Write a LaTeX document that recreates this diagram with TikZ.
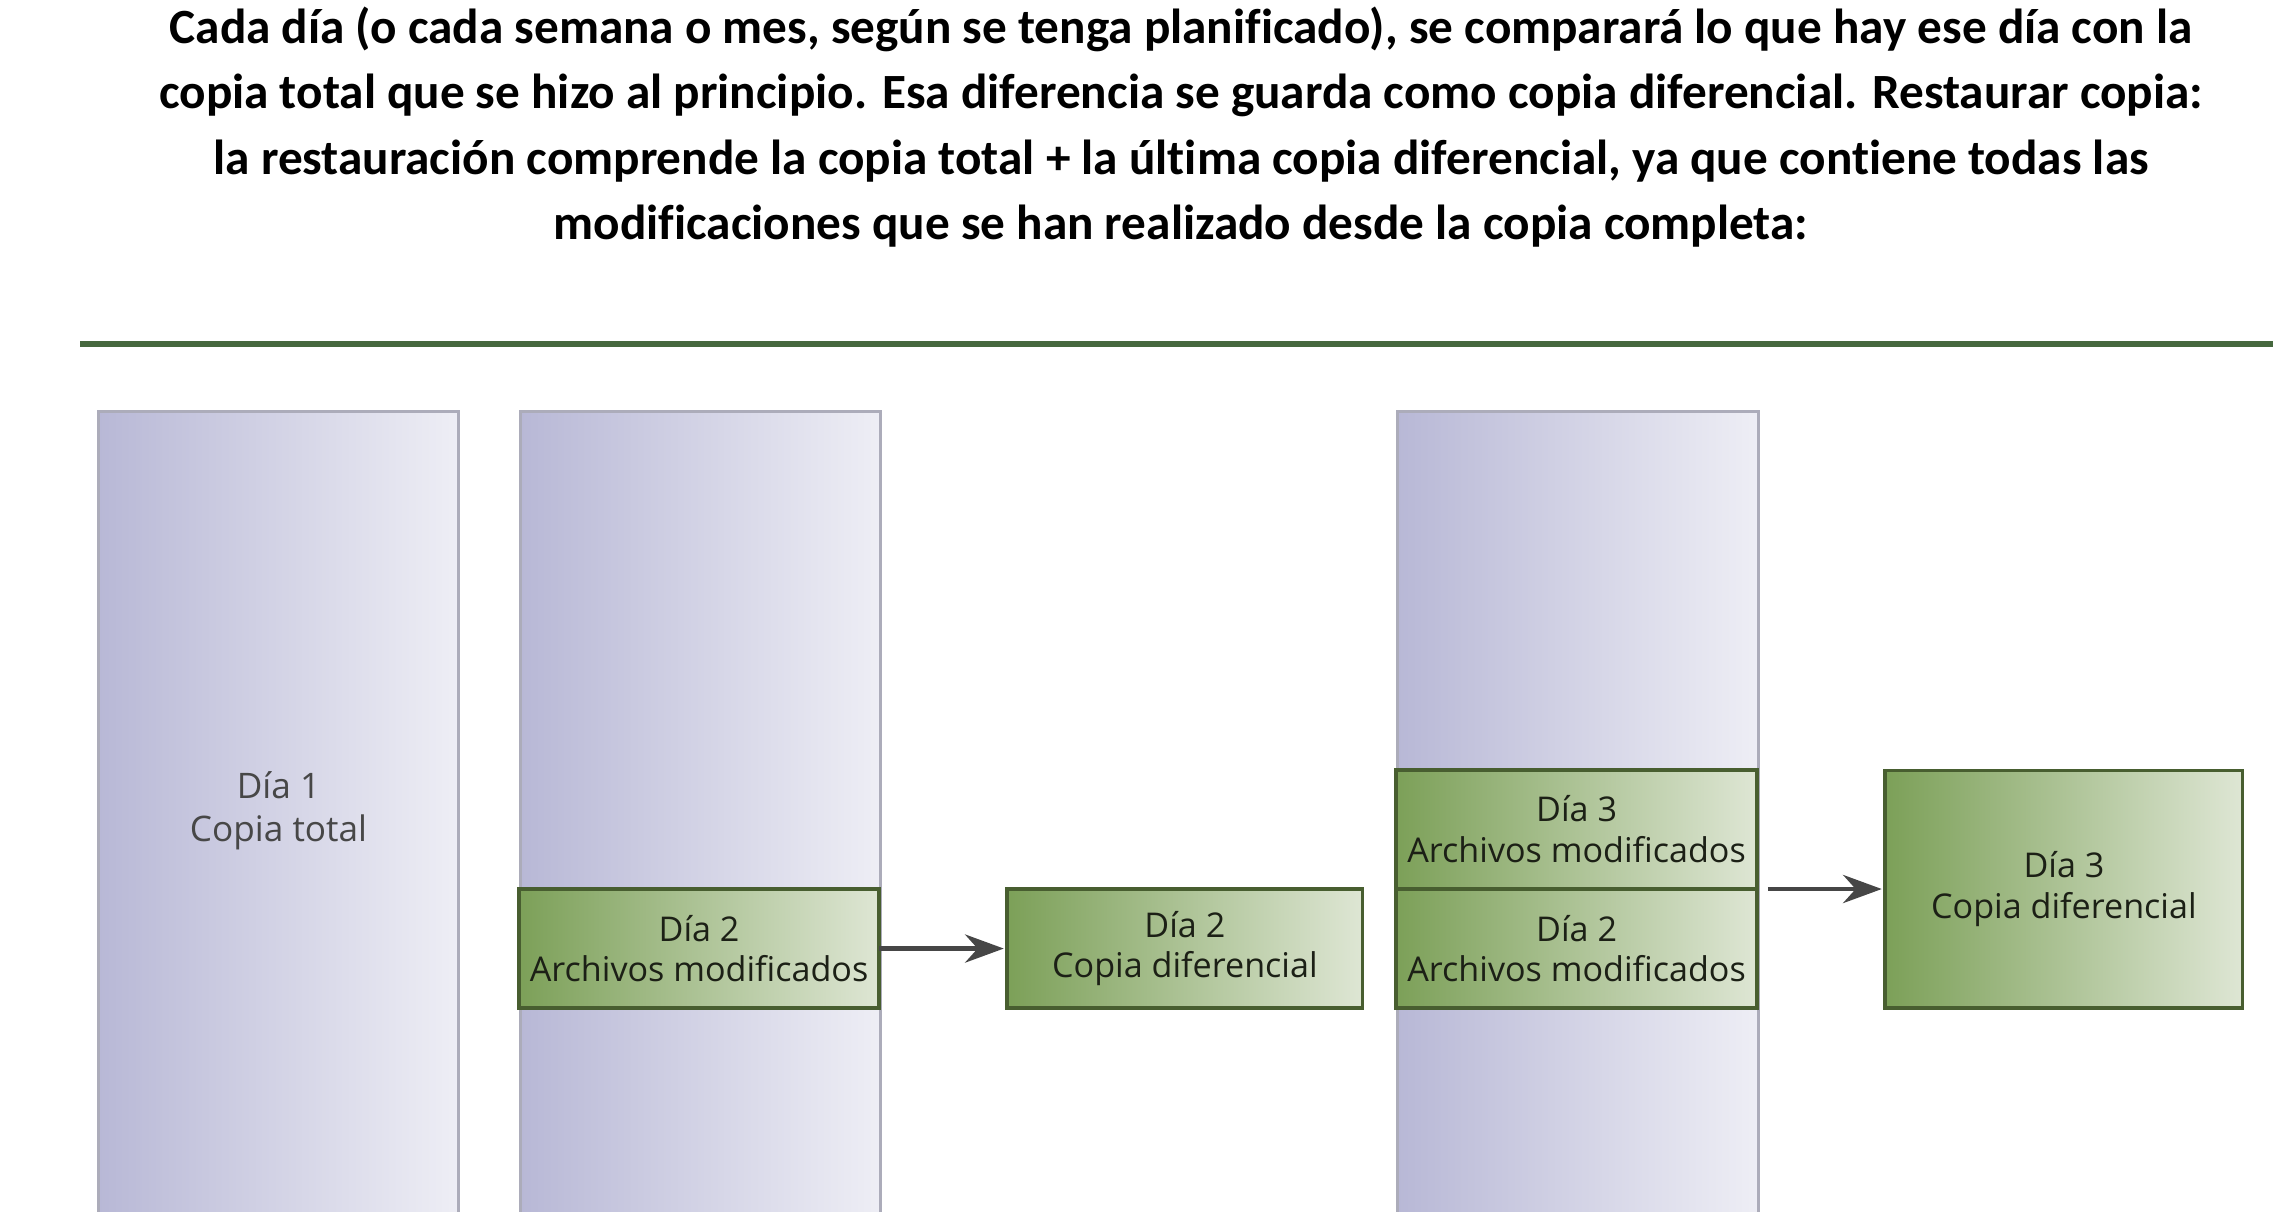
\documentclass[tikz,border=0pt]{standalone}
\usepackage{fontspec}
\setmainfont[Ligatures=NoCommon]{Carlito}
\newfontfamily\boxfont{Open Sans}
\usepackage{xcolor}
\usepackage{tikz}
\usetikzlibrary{positioning,arrows.meta}
\definecolor{linegreen}{RGB}{70,104,62}
\definecolor{colleft}{RGB}{184,184,214}
\definecolor{colright}{RGB}{238,238,245}
\definecolor{colborder}{RGB}{172,172,186}
\definecolor{boxleft}{RGB}{124,160,88}
\definecolor{boxright}{RGB}{222,230,212}
\definecolor{boxborder}{RGB}{72,94,48}
\definecolor{boxtext}{RGB}{28,32,22}
\definecolor{arrowgray}{RGB}{70,70,70}

\begin{document}
\begin{tikzpicture}[x=0.01cm,y=-0.01cm,->,>={Stealth[length=11pt,width=8pt]},shorten >=1pt,node distance=1.28cm,
	column/.style={rectangle,draw=colborder,line width=0.8pt,left color=colleft,right color=colright,minimum width=3.6cm,minimum height=8.2cm,anchor=north west,inner sep=0pt},
	collabel/.style={align=center,font=\boxfont\fontsize{10}{12}\selectfont,text=black!72},
	filebox/.style={rectangle,draw=boxborder,line width=1.1pt,outer sep=0pt,left color=boxleft,right color=boxright,minimum width=3.6cm,minimum height=1.19cm,inner sep=0pt,align=center,font=\boxfont\fontsize{9.7}{11.6}\selectfont,text=boxtext},
	arrowline/.style={draw=arrowgray,line width=1.3pt}]
			\useasboundingbox (0,0) rectangle (2273,1211);
			\fill[white] (0,0) rectangle (2273,1211);

			\node[align=center,font=\bfseries\fontsize{14}{18.6}\selectfont] (title) at (1181,127)
				{Cada día (o cada semana o mes, según se tenga planificado), se comparará lo que hay ese día con la\\
				 copia total que se hizo al principio. Esa diferencia se guarda como copia diferencial. Restaurar copia:\\
				 la restauración comprende la copia total + la última copia diferencial, ya que contiene todas las\\
				 modificaciones que se han realizado desde la copia completa:};
			\draw[-,linegreen,line width=1.7pt] (80,344) -- (2280,344);

			\node[column] (c1) at (97,410) {};
			\node[column] (c2) at (519,410) {};
			\node[column,minimum width=3.61cm] (c3) at (1396,410) {};
			\node[collabel] (t1) at ([yshift=0.11cm]c1.center) {Día 1\\Copia total};

			\node[filebox,anchor=north west] (m2) at (519,889) {Día 2\\Archivos modificados};
			\node[filebox,minimum width=3.55cm] (f2) [right=of m2] {Día 2\\Copia diferencial};
			\node[filebox,anchor=north west,minimum width=3.61cm] (m2b) at (1396,889) {Día 2\\Archivos modificados};
			\node[filebox,minimum width=3.61cm] (m3) [above=0pt of m2b] {Día 3\\Archivos modificados};
			\node[filebox,minimum width=3.57cm,minimum height=2.37cm] (f3) [right=of m2b.north east] {Día 3\\Copia diferencial};

			\draw[arrowline] (m2) -- (f2);
			\draw[arrowline,shorten <=3pt] (m2b.north east) -- (f3);
			\end{tikzpicture}
\end{document}
